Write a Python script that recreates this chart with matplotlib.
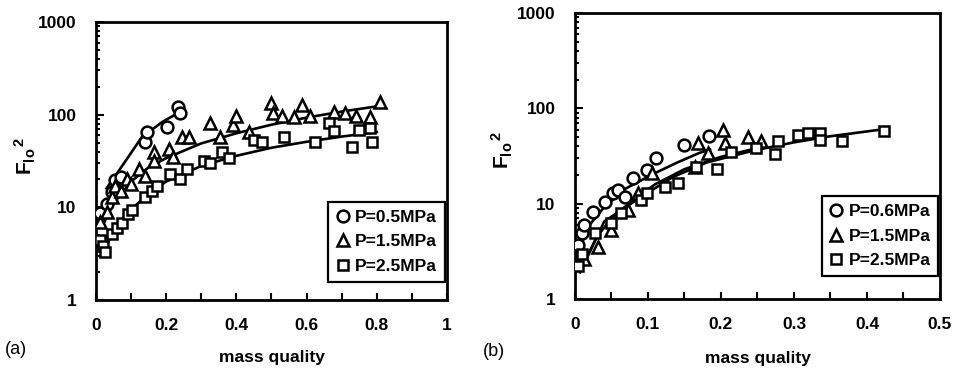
import matplotlib.pyplot as plt
from matplotlib.ticker import MultipleLocator, FixedLocator, NullFormatter, FixedFormatter

plt.rcParams["font.family"] = ["Liberation Sans", "DejaVu Sans"]
plt.rcParams["font.weight"] = "bold"
plt.rcParams["mathtext.fontset"] = "custom"
plt.rcParams["mathtext.rm"] = "Liberation Sans:bold"
plt.rcParams["mathtext.it"] = "Liberation Sans:bold"
plt.rcParams["mathtext.bf"] = "Liberation Sans:bold"

# ---- panel (a) data ----
labels_a = ["P=0.5MPa", "P=1.5MPa", "P=2.5MPa"]
cx_a = [0.012, 0.03, 0.046, 0.055, 0.07, 0.14, 0.145, 0.202, 0.235, 0.24]
cy_a = [8.6, 11, 14.7, 19.7, 21, 51, 65, 74, 120, 105]
tx_a = [0.012, 0.03, 0.046, 0.055, 0.07, 0.088, 0.1, 0.122, 0.14, 0.165, 0.165,
        0.207, 0.22, 0.245, 0.264, 0.326, 0.354, 0.39, 0.40, 0.435, 0.50, 0.505,
        0.53, 0.563, 0.587, 0.61, 0.677, 0.71, 0.74, 0.78, 0.81]
ty_a = [7, 9, 13, 17, 15, 20, 18, 26, 22, 40, 32, 43, 35, 58, 58, 81, 58, 77, 98,
        65, 133, 103, 98, 95, 127, 98, 108, 103, 98, 95, 138]
sx_a = [0.012, 0.02, 0.027, 0.046, 0.06, 0.074, 0.09, 0.103, 0.14, 0.16, 0.174,
        0.212, 0.24, 0.26, 0.307, 0.326, 0.36, 0.378, 0.45, 0.473, 0.535, 0.625,
        0.663, 0.677, 0.73, 0.75, 0.78, 0.786]
sy_a = [4.4, 3.8, 3.3, 5.2, 6, 6.7, 8.5, 9.4, 13, 15, 17, 23, 20, 26, 32, 30, 40,
        34, 53, 51, 58, 51, 81, 66, 45, 68, 71, 51]
# fitted curves
fcx_a = [0.03, 0.08, 0.13, 0.19, 0.245]
fcy_a = [16, 30, 57, 84, 110]
ftx_a = [0.02, 0.05, 0.1, 0.15, 0.2, 0.3, 0.4, 0.5, 0.6, 0.7, 0.8]
fty_a = [6.5, 11, 19, 27, 34, 49, 63, 78, 93, 108, 123]
fsx_a = [0.02, 0.05, 0.1, 0.15, 0.2, 0.3, 0.4, 0.5, 0.6, 0.7, 0.8]
fsy_a = [3.3, 5.5, 9.5, 14, 19, 28, 36, 44, 51, 58, 65]

# ---- panel (b) data ----
labels_b = ["P=0.6MPa", "P=1.5MPa", "P=2.5MPa"]
cx_b = [0.004, 0.009, 0.013, 0.025, 0.041, 0.052, 0.059, 0.068, 0.079, 0.098,
        0.111, 0.150, 0.184]
cy_b = [3.7, 4.9, 6.0, 8.2, 10.5, 12.8, 13.9, 11.8, 18.4, 22.6, 30, 41, 51]
tx_b = [0.013, 0.032, 0.05, 0.073, 0.086, 0.105, 0.164, 0.168, 0.182, 0.203,
        0.205, 0.237, 0.255]
ty_b = [2.6, 3.5, 5.3, 8.6, 13, 21, 24, 43, 34, 59, 43, 50, 45]
sx_b = [0.004, 0.009, 0.027, 0.05, 0.063, 0.091, 0.098, 0.123, 0.141, 0.166,
        0.194, 0.214, 0.248, 0.274, 0.278, 0.305, 0.319, 0.335, 0.335, 0.366, 0.423]
sy_b = [2.2, 3.0, 4.9, 6.2, 8, 11, 13, 15, 16.5, 24, 23, 35, 38, 33, 45, 52, 55,
        55, 47, 45, 58]
fcx_b = [0.005, 0.02, 0.04, 0.07, 0.11, 0.14, 0.17, 0.185]
fcy_b = [3.2, 6, 9.2, 14.5, 21, 27, 34, 37]
ftx_b = [0.01, 0.03, 0.05, 0.08, 0.11, 0.15, 0.2, 0.26]
fty_b = [2.2, 4.5, 7, 11, 16, 23, 31, 40]
fsx_b = [0.007, 0.04, 0.09, 0.134, 0.18, 0.244, 0.3, 0.35, 0.42]
fsy_b = [1.9, 6.5, 11.7, 19, 27, 36, 44, 51, 60]

y_ticks = [1, 10, 100, 1000]
y_ticklabels = ["1", "10", "100", "1000"]

fig = plt.figure(figsize=(9.58, 3.72), dpi=100)
ax_a = fig.add_axes([0.1002, 0.1935, 0.3664, 0.7473])
ax_b = fig.add_axes([0.6002, 0.1962, 0.3810, 0.7688])

mk = dict(linestyle="none", markerfacecolor="white", markeredgecolor="black",
          markeredgewidth=1.8, zorder=3)


def draw_panel(ax, data, curves, labels, xmax, xmajor, xlabel_step, legend_anchor):
    (cx, cy), (tx, ty), (sx, sy) = data
    for fx, fy in curves:
        ax.plot(fx, fy, color="black", linewidth=1.9, zorder=2)
    h1, = ax.plot(cx, cy, marker="o", markersize=8.5, label=labels[0], **mk)
    h2, = ax.plot(tx, ty, marker="^", markersize=9, label=labels[1], **mk)
    h3, = ax.plot(sx, sy, marker="s", markersize=7.8, label=labels[2], **mk)

    ax.set_yscale("log")
    ax.set_ylim(1, 1000)
    ax.set_xlim(0, xmax)
    ax.yaxis.set_major_locator(FixedLocator(y_ticks))
    ax.yaxis.set_major_formatter(FixedFormatter(y_ticklabels))
    ax.yaxis.set_minor_formatter(NullFormatter())
    ax.xaxis.set_major_locator(MultipleLocator(xmajor))
    ax.xaxis.set_major_formatter(
        plt.FuncFormatter(lambda v, p: ("%g" % round(v, 3))
                          if abs(v / xlabel_step - round(v / xlabel_step)) < 1e-6 else ""))
    ax.tick_params(axis="both", which="both", direction="in", top=False, right=False,
                   labelsize=12.5, width=1.5)
    ax.tick_params(axis="x", which="major", length=5, pad=13)
    ax.tick_params(axis="y", which="major", length=6, pad=14)
    ax.tick_params(axis="y", which="minor", length=3)
    for sp in ax.spines.values():
        sp.set_linewidth(2.0)

    ax.set_xlabel("mass quality", fontsize=12.5, fontweight="bold")
    ax.xaxis.label.set_verticalalignment("center")
    ax.set_ylabel(r"$\mathrm{{F_{lo}}^{\,2}}$", fontsize=15)
    ax.yaxis.label.set_verticalalignment("center")
    ax.xaxis.set_label_coords(0.5, -0.208)
    ax.yaxis.set_label_coords(-0.2, 0.52)

    leg = ax.legend(handles=[h1, h2, h3], loc="lower right", bbox_to_anchor=legend_anchor,
                    fontsize=12.5, frameon=True, fancybox=False, framealpha=1,
                    edgecolor="black", handlelength=0.8, handletextpad=0.3,
                    borderpad=0.45, labelspacing=0.55, borderaxespad=0)
    leg.get_frame().set_linewidth(1.6)


draw_panel(ax_a, [(cx_a, cy_a), (tx_a, ty_a), (sx_a, sy_a)],
           [(fcx_a, fcy_a), (ftx_a, fty_a), (fsx_a, fsy_a)],
           labels_a, 1.0, 0.1, 0.2, (0.994, 0.065))
draw_panel(ax_b, [(cx_b, cy_b), (tx_b, ty_b), (sx_b, sy_b)],
           [(fcx_b, fcy_b), (ftx_b, fty_b), (fsx_b, fsy_b)],
           labels_b, 0.5, 0.05, 0.1, (0.995, 0.08))

fig.text(5 / 958, 1 - 349 / 372, "(a)", fontsize=13, fontweight="normal", va="center")
fig.text(483 / 958, 1 - 351 / 372, "(b)", fontsize=13, fontweight="normal", va="center")

fig.savefig("out.png", dpi=100)
